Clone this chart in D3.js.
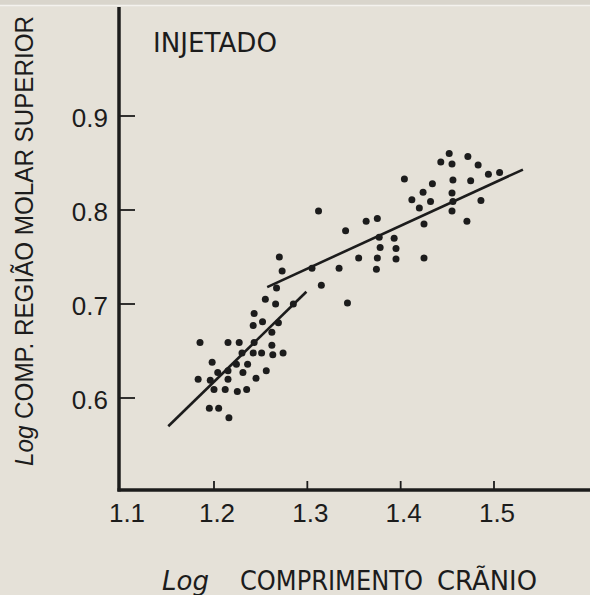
<!DOCTYPE html>
<meta charset="utf-8">
<script src="https://d3js.org/d3.v7.min.js"></script>
<style>
  body { margin: 0; background: #e5e1d8; }
</style>
<div id="chart"></div>
<script>
// Log comprimento crânio (x) and log comp. região molar superior (y)
var logCranio = [1.185,1.215,1.227,1.243,1.262,1.230,1.242,1.251,1.263,1.274,
                 1.198,1.224,1.236,1.204,1.215,1.231,1.256,1.245,1.183,1.196,
                 1.215,1.200,1.212,1.225,1.235,1.195,1.205,1.216,1.243,1.242,
                 1.252,1.269,1.262,1.255,1.266,1.285,1.267,1.270,1.273,1.315,
                 1.305,1.334,1.374,1.343,1.355,1.375,1.395,1.425,1.378,1.395,
                 1.377,1.393,1.341,1.363,1.375,1.312,1.425,1.471,1.455,1.420,
                 1.412,1.432,1.456,1.486,1.424,1.455,1.404,1.434,1.456,1.475,
                 1.494,1.506,1.483,1.443,1.455,1.452,1.472];
var logMolar  = [0.659,0.659,0.659,0.659,0.656,0.648,0.648,0.648,0.646,0.648,
                 0.638,0.636,0.636,0.627,0.629,0.627,0.629,0.621,0.620,0.619,
                 0.620,0.609,0.609,0.607,0.609,0.589,0.589,0.579,0.690,0.677,
                 0.681,0.680,0.670,0.705,0.700,0.700,0.717,0.750,0.735,0.720,
                 0.738,0.738,0.737,0.701,0.749,0.749,0.748,0.749,0.760,0.759,
                 0.771,0.770,0.778,0.788,0.791,0.799,0.785,0.788,0.799,0.802,
                 0.811,0.809,0.809,0.810,0.819,0.818,0.833,0.828,0.832,0.831,
                 0.838,0.840,0.848,0.851,0.849,0.860,0.857];

// two fitted lines (start and end points)
var retaInferior = [[1.151, 0.570], [1.299, 0.713]];
var retaSuperior = [[1.257, 0.718], [1.531, 0.843]];

var xTicks = [1.1, 1.2, 1.3, 1.4, 1.5];
var yTicks = [0.6, 0.7, 0.8, 0.9];

var width = 590, height = 595;

var svg = d3.select("#chart").append("svg")
    .attr("width", width).attr("height", height)
    .style("display", "block");

svg.append("rect").attr("width", width).attr("height", height).attr("fill", "#e5e1d8");
svg.append("rect").attr("width", width).attr("height", 5).attr("fill", "#d9d5cc");
svg.append("line").attr("x1", 0).attr("x2", width).attr("y1", 5.5).attr("y2", 5.5)
    .attr("stroke", "#f4f2ee").attr("stroke-width", 1.5);

var x = d3.scaleLinear().domain([1.2, 1.5]).range([214, 494]);
var y = d3.scaleLinear().domain([0.6, 0.9]).range([398, 116]);

var ink = "#1c1c1c";
var axisX = 119, axisY = 490;

// axes
svg.append("line").attr("x1", axisX).attr("x2", axisX).attr("y1", 7).attr("y2", axisY + 1.5)
    .attr("stroke", ink).attr("stroke-width", 3.5);
svg.append("line").attr("x1", axisX - 1.5).attr("x2", width).attr("y1", axisY).attr("y2", axisY)
    .attr("stroke", ink).attr("stroke-width", 3.5);

svg.selectAll(".xtick").data(xTicks.slice(1)).enter().append("line")
    .attr("x1", function(d) { return x(d); }).attr("x2", function(d) { return x(d); })
    .attr("y1", axisY).attr("y2", axisY - 9)
    .attr("stroke", ink).attr("stroke-width", 1.8);

svg.selectAll(".ytick").data(yTicks).enter().append("line")
    .attr("x1", axisX).attr("x2", axisX + 16)
    .attr("y1", function(d) { return y(d); }).attr("y2", function(d) { return y(d); })
    .attr("stroke", ink).attr("stroke-width", 1.8);

svg.selectAll(".xlab").data(xTicks).enter().append("text")
    .attr("x", function(d) { return d === 1.1 ? 127 : x(d) + 3; })
    .attr("y", 522)
    .attr("text-anchor", "middle")
    .style("font-family", "Liberation Sans, Arial, sans-serif")
    .style("font-size", "26px")
    .attr("fill", ink)
    .text(function(d) { return d3.format(".1f")(d); });

svg.selectAll(".ylab").data(yTicks).enter().append("text")
    .attr("x", 108)
    .attr("y", function(d) { return y(d) + 11; })
    .attr("text-anchor", "end")
    .style("font-family", "Liberation Sans, Arial, sans-serif")
    .style("font-size", "26px")
    .attr("fill", ink)
    .text(function(d) { return d3.format(".1f")(d); });

// fitted lines
var line = d3.line().x(function(d) { return x(d[0]); }).y(function(d) { return y(d[1]); });
[retaInferior, retaSuperior].forEach(function(r) {
  svg.append("path").attr("d", line(r)).attr("fill", "none")
      .attr("stroke", ink).attr("stroke-width", 2.6);
});

// points
svg.selectAll("circle").data(logCranio).enter().append("circle")
    .attr("cx", function(d) { return x(d); })
    .attr("cy", function(d, i) { return y(logMolar[i]); })
    .attr("r", 3.5)
    .attr("fill", ink);

// labels
svg.append("text").attr("x", 153).attr("y", 52)
    .attr("textLength", 124).attr("lengthAdjust", "spacingAndGlyphs")
    .style("font-family", "DejaVu Sans, sans-serif").style("font-size", "26px")
    .attr("fill", ink).text("INJETADO");

var xt = svg.append("text").attr("y", 590)
    .style("font-family", "DejaVu Sans, sans-serif").style("font-size", "26px")
    .attr("fill", ink);
xt.append("tspan").attr("x", 162).style("font-style", "italic").text("Log");
xt.append("tspan").attr("x", 240).attr("textLength", 183).attr("lengthAdjust", "spacingAndGlyphs").text("COMPRIMENTO");
xt.append("tspan").attr("x", 437).attr("textLength", 100).attr("lengthAdjust", "spacingAndGlyphs").text("CRÃNIO");

// y title: narrower font size, stretched across so the letters keep the reference height
var yt = svg.append("text")
    .attr("transform", "translate(33,466) rotate(-90) scale(1,1.18)")
    .attr("textLength", 450).attr("lengthAdjust", "spacingAndGlyphs")
    .style("font-family", "Liberation Sans, Arial, sans-serif").style("font-size", "22px")
    .attr("fill", ink);
yt.append("tspan").style("font-style", "italic").text("Log ");
yt.append("tspan").text("COMP. REGIÃO MOLAR SUPERIOR");
</script>
